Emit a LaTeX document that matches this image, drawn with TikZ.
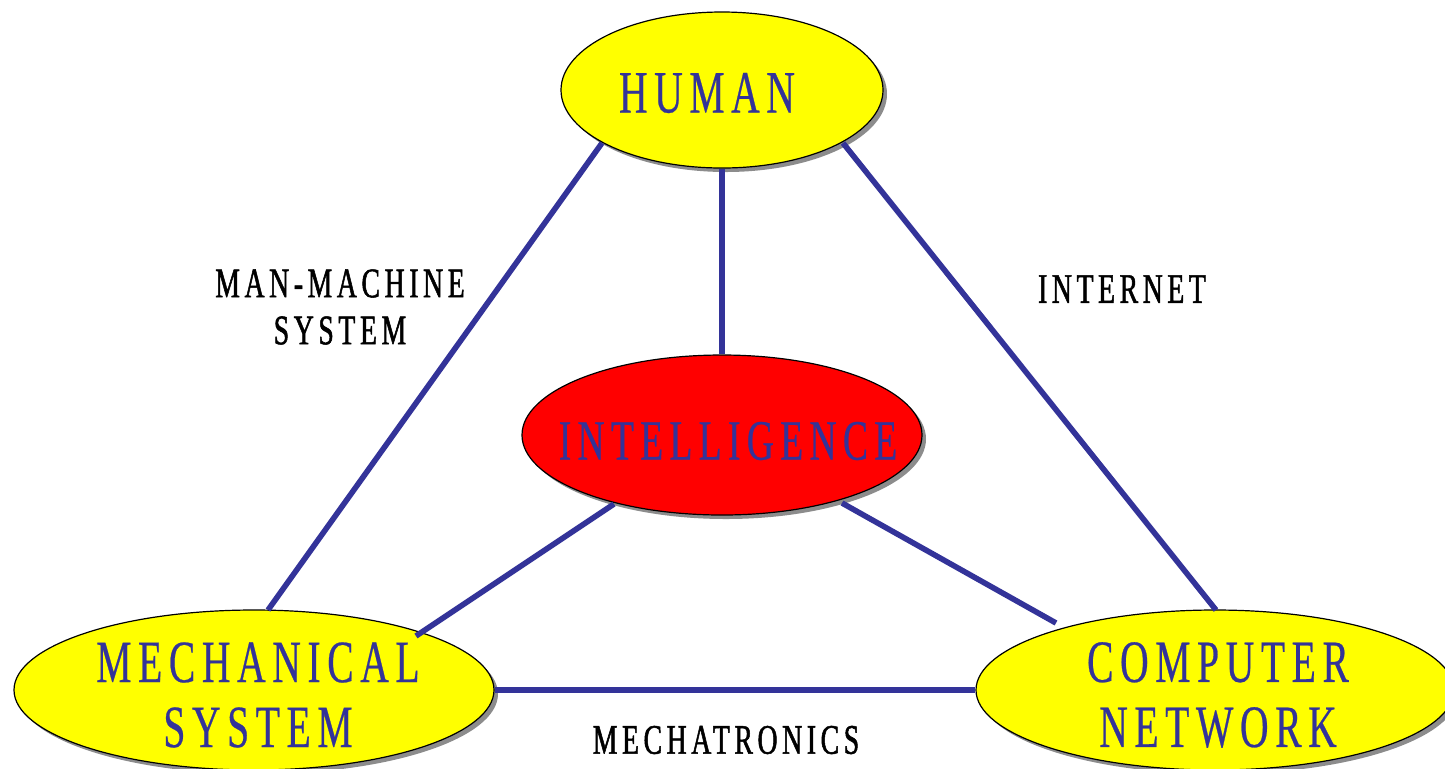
\documentclass[tikz,border=0pt]{standalone}
\usepackage{fontspec}
\setmainfont{Liberation Serif}
\newfontfamily\condfont[FakeStretch=0.66,LetterSpace=11,FakeBold=0.4]{Liberation Serif}
\newfontfamily\condboldfont[FakeStretch=0.66,LetterSpace=11,FakeBold=1.2]{Liberation Serif}
\usetikzlibrary{shapes.geometric,shadows,calc}
\definecolor{lineblue}{HTML}{333399}
\definecolor{ellyellow}{HTML}{FFFF00}
\definecolor{ellred}{HTML}{FF0000}
\tikzset{
  ell/.style={ellipse, draw=black, line width=0.6pt, inner sep=0pt,
    drop shadow={shadow xshift=2pt, shadow yshift=-2pt, fill=gray!90, opacity=1}},
  bigtext/.style={font=\condfont\fontsize{30}{32.5}\selectfont, text=lineblue, align=center, inner sep=0pt},
  labeltext/.style={font=\condboldfont\fontsize{21}{23.5}\selectfont, text=black, align=center, inner sep=0pt},
  link/.style={draw=lineblue, line width=2.8pt}
}
\begin{document}
\begin{tikzpicture}[x=0.5pt,y=-0.5pt]
\useasboundingbox (0,0) rectangle (1445,768);
\clip (0,0) rectangle (1445,768);
\node[ell, fill=ellyellow, minimum width=161pt, minimum height=78pt] (human) at (722,90) {};
\node[ell, fill=ellred, minimum width=200pt, minimum height=80pt] (intel) at (722,435) {};
\node[ell, fill=ellyellow, minimum width=240pt, minimum height=80pt] (mech) at (254,690) {};
\node[ell, fill=ellyellow, minimum width=239pt, minimum height=80pt] (comp) at (1215,690) {};

\node[bigtext] (humanT) at (707,93) {HUMAN};
\node[bigtext, font=\condfont\fontsize{28.5}{32.5}\selectfont] (intelT) at (728,441) {INTELLIGENCE};
\node[bigtext] (mechT) at (258,695) {MECHANICAL\\SYSTEM};
\node[bigtext] (compT) at (1218,695) {COMPUTER\\NETWORK};

\node[labeltext] (mmT) at (340,307) {MAN-MACHINE\\SYSTEM};
\node[labeltext] (netT) at (1122,289) {INTERNET};
\node[labeltext] (mtT) at (726,740) {MECHATRONICS};

\draw[link] ($(human.center)+(-120,53)$) -- ($(mech.center)+(14,-80)$);
\draw[link] (human.south) -- (intel.north);
\draw[link] ($(human.center)+(121,53)$) -- ($(comp.center)+(1,-80)$);
\draw[link] ($(intel.center)+(-108,69)$) -- ($(mech.center)+(162,-54)$);
\draw[link] ($(intel.center)+(120,68)$) -- ($(comp.center)+(-159,-67)$);
\draw[link] (mech.east) -- (comp.west);
\end{tikzpicture}
\end{document}
